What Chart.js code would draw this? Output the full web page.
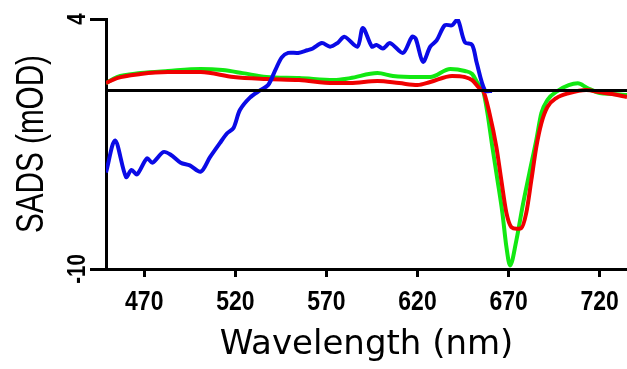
<!DOCTYPE html>
<html>
<head>
<meta charset="utf-8">
<script src="https://cdn.jsdelivr.net/npm/chart.js@4"></script>
<style>
  body { margin: 0; background: #fff; }
  #wrap { width: 627px; height: 369px; position: relative; }
</style>
</head>
<body>
<div id="wrap"><canvas id="sadsChart"></canvas></div>
<script>
// wavelengths (nm) and SADS values (mOD)
const blueWl = [449, 454, 460, 463, 466, 471.5, 474.5, 480.5, 484.5, 490, 495, 501, 506, 511.5, 515.5, 519, 522.5, 528, 533.5, 538, 542, 545.5, 549, 554.5, 559.5, 562.5, 567.5, 572, 576, 580, 587, 590, 595, 597.5, 601, 605, 612, 617, 619, 623, 627, 630.5, 635, 639, 642, 646, 650, 652.5, 657, 661];
const blueVals = [-4.6, -2.8, -4.85, -4.45, -4.7, -3.8, -4.05, -3.45, -3.6, -4.05, -4.2, -4.55, -3.75, -2.95, -2.4, -2.1, -1.1, -0.4, 0, 0.3, 1.15, 1.85, 2.1, 2.1, 2.25, 2.35, 2.65, 2.45, 2.65, 3.0, 2.45, 3.5, 2.45, 2.55, 2.35, 2.65, 2.1, 3.0, 2.9, 1.6, 2.45, 2.8, 3.65, 3.65, 3.98, 2.7, 2.55, 1.55, 0.0, -0.03];

const greenWl = [449, 455, 468, 483, 501, 513, 524, 537, 555, 574, 583, 598, 606.5, 620, 627, 638, 646, 650, 653, 656, 658.4, 661.1, 663.9, 666.6, 668.8, 670.8, 674.3, 677.6, 681.4, 685.2, 688, 691.3, 697, 703, 708, 713, 720, 727, 735];
const greenVals = [0.4, 0.75, 0.97, 1.09, 1.2, 1.14, 0.97, 0.75, 0.69, 0.58, 0.69, 0.97, 0.81, 0.75, 0.75, 1.2, 1.09, 0.92, 0.41, 0.0, -1.27, -3.17, -5.02, -6.86, -8.76, -9.8, -8.38, -6.53, -4.63, -2.78, -1.27, -0.54, -0.02, 0.3, 0.4, 0.15, -0.15, -0.2, -0.26];

const redWl = [449, 455, 468, 483, 501, 519, 537, 555, 574, 583, 598, 610, 620, 627, 639, 646, 650, 654, 656, 659.5, 663.3, 666, 668.8, 671.5, 674.3, 677, 679.7, 682.5, 685.2, 688, 691.3, 696.2, 703.3, 712.6, 719.7, 726.8, 735];
const redVals = [0.41, 0.69, 0.92, 1.03, 1.03, 0.75, 0.64, 0.58, 0.41, 0.41, 0.53, 0.41, 0.3, 0.47, 0.81, 0.75, 0.58, 0.13, 0.0, -1.27, -3.17, -5.02, -6.86, -7.65, -7.75, -7.71, -6.86, -5.02, -3.17, -1.83, -0.93, -0.43, -0.15, 0.02, -0.09, -0.2, -0.37];

const xTicks = [470, 520, 570, 620, 670, 720];
const yTicks = [-10, 4];
const yTitle = 'SADS (mOD)';

const toPoints = (xs, ys) => xs.map((x, i) => ({ x: x, y: ys[i] }));

// zero line, narrow tick labels and the y title
const axisExtras = {
    id: 'axisExtras',
    afterDatasetsDraw(chart) {
        const { ctx, chartArea, scales: { y } } = chart;
        const y0 = y.getPixelForValue(0);
        ctx.save();
        ctx.strokeStyle = '#000';
        ctx.lineWidth = 3;
        ctx.beginPath();
        ctx.moveTo(chartArea.left, y0);
        ctx.lineTo(chartArea.right, y0);
        ctx.stroke();
        ctx.restore();
    },
    afterDraw(chart) {
        const { ctx, chartArea, scales: { x, y } } = chart;
        ctx.save();
        ctx.fillStyle = '#000';
        ctx.textAlign = 'center';
        ctx.textBaseline = 'alphabetic';

        // x tick labels (squeezed a bit, the original font is narrow)
        ctx.font = 'bold 28px "Liberation Sans"';
        xTicks.forEach(v => {
            ctx.save();
            ctx.translate(x.getPixelForValue(v), chartArea.bottom + 41);
            ctx.scale(0.82, 1);
            ctx.fillText(String(v), 0, 0);
            ctx.restore();
        });

        // y tick labels, rotated
        ctx.font = 'bold 25px "Liberation Sans"';
        yTicks.forEach(v => {
            ctx.save();
            ctx.translate(chartArea.left - 21, y.getPixelForValue(v));
            ctx.rotate(-Math.PI / 2);
            ctx.scale(0.82, 1);
            ctx.fillText(String(v), 0, 0);
            ctx.restore();
        });

        // y title
        ctx.font = '38px "Liberation Sans"';
        ctx.translate(43, (chartArea.top + chartArea.bottom) / 2);
        ctx.rotate(-Math.PI / 2);
        ctx.scale(0.78, 1);
        ctx.fillText(yTitle, 0, 0);
        ctx.restore();
    }
};

const ctx = document.getElementById('sadsChart').getContext('2d');
const sadsChart = new Chart(ctx, {
    type: 'line',
    data: {
        datasets: [{
            label: 'blue',
            data: toPoints(blueWl, blueVals),
            borderColor: '#0a0ae6',
            borderWidth: 4,
            tension: 0.3
        }, {
            label: 'red',
            data: toPoints(redWl, redVals),
            borderColor: '#f00000',
            borderWidth: 4,
            cubicInterpolationMode: 'monotone'
        }, {
            label: 'green',
            data: toPoints(greenWl, greenVals),
            borderColor: '#12e812',
            borderWidth: 4,
            cubicInterpolationMode: 'monotone'
        }]
    },
    options: {
        responsive: true,
        maintainAspectRatio: false,
        animation: false,
        elements: { point: { radius: 0 } },
        layout: { padding: { top: 19, right: 0, left: 90, bottom: 0 } },
        plugins: { legend: { display: false }, tooltip: { enabled: false } },
        scales: {
            x: {
                type: 'linear',
                min: 449,
                max: 735,
                afterBuildTicks: scale => { scale.ticks = xTicks.map(v => ({ value: v })); },
                grid: { drawOnChartArea: false, drawTicks: true, tickLength: 8, color: '#000', lineWidth: 3 },
                border: { display: true, color: '#000', width: 3 },
                ticks: { display: false },
                title: {
                    display: true, text: 'Wavelength (nm)', color: '#000',
                    font: { family: '"DejaVu Sans"', size: 34, lineHeight: 1 },
                    padding: { top: 51, bottom: 7 }
                }
            },
            y: {
                min: -10,
                max: 4,
                afterBuildTicks: scale => { scale.ticks = yTicks.map(v => ({ value: v })); },
                grid: { drawOnChartArea: false, drawTicks: true, tickLength: 16, color: '#000', lineWidth: 3 },
                border: { display: true, color: '#000', width: 3 },
                ticks: { display: false }
            }
        }
    },
    plugins: [axisExtras]
});
</script>
</body>
</html>
